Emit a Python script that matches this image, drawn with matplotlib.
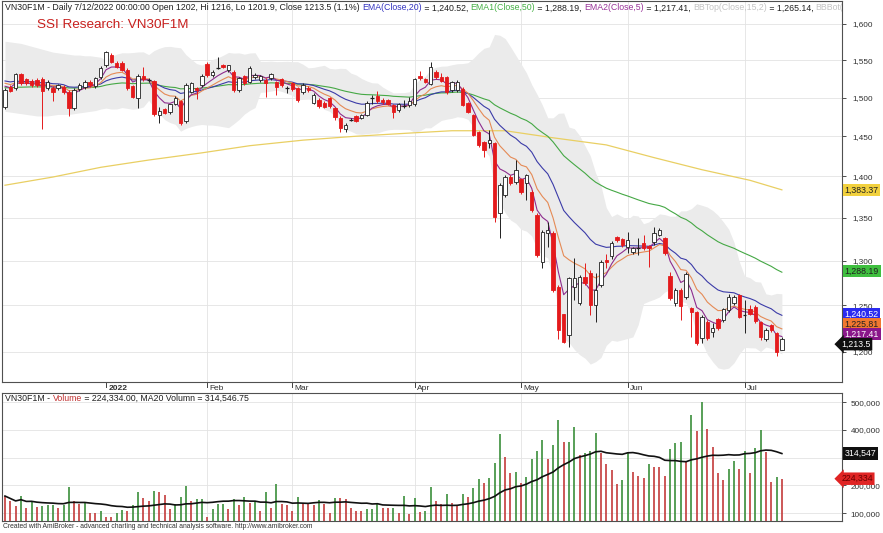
import matplotlib
matplotlib.use("Agg")
import matplotlib.pyplot as plt
from matplotlib.ticker import FixedLocator, FuncFormatter, NullLocator
import numpy as np
import pandas as pd

plt.rcParams['font.family'] = ['Liberation Sans', 'DejaVu Sans']

# ---- data (daily bars, 7 Dec 2021 .. 12 Jul 2022) ----
opens = [1488, 1514, 1512, 1531, 1524, 1522, 1523, 1524, 1513, 1512,
         1512, 1514, 1508, 1486, 1511, 1514, 1521, 1515, 1527, 1544,
         1557, 1546, 1546, 1537, 1515, 1499, 1529, 1523, 1522, 1477,
         1485, 1481, 1492, 1495, 1469, 1508, 1512, 1517, 1545, 1530,
         1539, 1543, 1537, 1534, 1510, 1528, 1521, 1527, 1523, 1523,
         1526, 1520, 1524, 1512, 1519, 1512, 1508, 1513, 1493, 1497,
         1493, 1499, 1486, 1474, 1459, 1471, 1476, 1474, 1477, 1499,
         1502, 1497, 1497, 1490, 1484, 1489, 1490, 1492, 1529, 1524,
         1518, 1534, 1527, 1527, 1510, 1510, 1511, 1493, 1477, 1456,
         1443, 1441, 1441, 1356, 1377, 1399, 1393, 1397, 1392, 1381,
         1353, 1298, 1332, 1332, 1270, 1241, 1218, 1270, 1253, 1281,
         1286, 1251, 1273, 1301, 1305, 1327, 1325, 1316, 1310, 1315,
         1320, 1317, 1321, 1330, 1326, 1283, 1253, 1267, 1259, 1247,
         1243, 1215, 1232, 1221, 1235, 1234, 1245, 1253, 1261, 1240,
         1246, 1248, 1232, 1214, 1229, 1220, 1202]
highs = [1513, 1517, 1533, 1533, 1526, 1525, 1526, 1527, 1523, 1515,
         1518, 1517, 1510, 1513, 1519, 1523, 1523, 1527, 1542, 1563,
         1560, 1549, 1549, 1539, 1517, 1531, 1541, 1526, 1523, 1487,
         1486, 1492, 1502, 1497, 1519, 1521, 1514, 1531, 1548, 1537,
         1555, 1545, 1544, 1537, 1527, 1530, 1542, 1533, 1530, 1526,
         1533, 1522, 1526, 1515, 1521, 1514, 1519, 1515, 1506, 1499,
         1495, 1501, 1488, 1476, 1467, 1473, 1477, 1479, 1495, 1503,
         1509, 1499, 1498, 1491, 1493, 1497, 1501, 1526, 1536, 1526,
         1548, 1537, 1533, 1529, 1522, 1523, 1514, 1494, 1478, 1457,
         1444, 1458, 1443, 1392, 1402, 1401, 1420, 1398, 1403, 1383,
         1356, 1336, 1345, 1334, 1273, 1241, 1282, 1303, 1284, 1297,
         1290, 1286, 1301, 1308, 1323, 1329, 1326, 1333, 1316, 1326,
         1330, 1318, 1339, 1338, 1327, 1287, 1269, 1269, 1287, 1248,
         1244, 1240, 1234, 1231, 1236, 1247, 1263, 1261, 1263, 1256,
         1250, 1250, 1233, 1225, 1230, 1221, 1216]
lows = [1485, 1507, 1510, 1517, 1517, 1514, 1514, 1459, 1510, 1495,
        1510, 1505, 1476, 1484, 1509, 1511, 1514, 1513, 1525, 1541,
        1546, 1539, 1535, 1510, 1499, 1486, 1522, 1520, 1476, 1467,
        1479, 1479, 1490, 1464, 1467, 1506, 1498, 1514, 1527, 1527,
        1538, 1539, 1534, 1507, 1507, 1517, 1519, 1525, 1521, 1501,
        1523, 1503, 1514, 1506, 1509, 1494, 1505, 1507, 1491, 1486,
        1486, 1486, 1471, 1456, 1456, 1469, 1468, 1472, 1476, 1492,
        1493, 1491, 1490, 1474, 1481, 1486, 1488, 1489, 1523, 1519,
        1516, 1525, 1520, 1505, 1507, 1507, 1489, 1480, 1450, 1436,
        1424, 1435, 1345, 1326, 1375, 1389, 1391, 1378, 1371, 1357,
        1304, 1292, 1316, 1265, 1214, 1209, 1205, 1256, 1251, 1273,
        1240, 1232, 1270, 1292, 1302, 1322, 1316, 1309, 1308, 1307,
        1312, 1293, 1318, 1328, 1307, 1256, 1249, 1234, 1257, 1216,
        1207, 1210, 1213, 1216, 1223, 1232, 1243, 1250, 1236, 1220,
        1240, 1231, 1213, 1212, 1221, 1196, 1201.9]
closes = [1510, 1509, 1531, 1519, 1519, 1517, 1517, 1509, 1521, 1507,
          1516, 1507, 1486, 1510, 1517, 1520, 1517, 1526, 1539, 1561,
          1548, 1541, 1537, 1512, 1501, 1529, 1524, 1523, 1479, 1482,
          1480, 1491, 1500, 1467, 1517, 1519, 1510, 1529, 1530, 1534,
          1539, 1541, 1543, 1510, 1526, 1519, 1539, 1530, 1529, 1519,
          1532, 1514, 1517, 1512, 1511, 1497, 1517, 1510, 1503, 1489,
          1488, 1489, 1475, 1460, 1464, 1471, 1470, 1477, 1493, 1499,
          1495, 1494, 1492, 1481, 1491, 1489, 1495, 1524, 1526, 1521,
          1541, 1527, 1522, 1508, 1520, 1520, 1490, 1481, 1452, 1439,
          1433, 1445, 1351, 1389, 1399, 1392, 1408, 1381, 1402, 1359,
          1307, 1333, 1336, 1267, 1223, 1211, 1280, 1280, 1281, 1275,
          1251, 1267, 1298, 1299, 1320, 1324, 1318, 1324, 1315, 1315,
          1315, 1315, 1332, 1336, 1309, 1258, 1267, 1249, 1285, 1243,
          1210, 1237, 1215, 1226, 1225, 1246, 1259, 1259, 1237, 1240,
          1241, 1233, 1216, 1223, 1223, 1200, 1213.5]
# volume in thousands of contracts
volume_k = [162, 144, 127, 162, 118, 144, 122, 126, 128, 130,
            118, 130, 194, 144, 132, 139, 102, 100, 109, 88,
            86, 100, 112, 108, 130, 178, 156, 144, 180, 175,
            166, 114, 132, 157, 199, 145, 150, 152, 88, 115,
            132, 133, 115, 152, 130, 157, 136, 142, 109, 175,
            118, 205, 132, 130, 109, 159, 136, 136, 130, 148,
            132, 102, 155, 155, 152, 118, 109, 109, 115, 116,
            136, 118, 118, 120, 100, 161, 97, 155, 105, 107,
            194, 144, 133, 170, 136, 127, 169, 160, 192, 223,
            210, 228, 280, 385, 302, 246, 248, 208, 232, 296,
            324, 362, 294, 346, 436, 356, 358, 410, 310, 318,
            324, 390, 318, 278, 256, 205, 220, 318, 250, 234,
            226, 278, 268, 266, 234, 332, 354, 356, 286, 454,
            396, 502, 403, 338, 246, 220, 258, 288, 260, 324,
            246, 334, 398, 320, 214, 232, 224.334]

month_labels = ['2022', 'Feb', 'Mar', 'Apr', 'May', 'Jun', 'Jul']
month_bars = [19, 38, 54, 77, 97, 117, 139]

# long moving average (yellow), read at a few bars
slow_ma_bars = [0, 9, 18, 27, 37, 46, 56, 66, 76, 84, 94, 103, 113, 122, 131, 140, 146]
slow_ma_vals = [1389, 1399, 1411, 1420, 1429, 1438, 1445, 1450, 1454, 1457,
                1457, 1448, 1439, 1423, 1408, 1395, 1383.37]

# Bollinger band on the first bars (the window reaches back before Dec)
bb_top_head = [1576, 1575, 1574, 1573, 1571, 1569, 1567, 1565, 1563, 1561,
               1560, 1559, 1558, 1557, 1557, 1556, 1556, 1555, 1554]
bb_bot_head = [1482, 1481, 1480, 1479, 1478, 1477, 1476, 1476, 1476, 1477,
               1478, 1478, 1478, 1479, 1480, 1481, 1482, 1483, 1485]

# EMA values on the first bar
ema_start = {5: 1515, 10: 1519, 20: 1522, 50: 1513}

# last values printed in the right-hand tags
price_tags = [1383.37, 1288.19, 1240.52, 1225.81, 1217.41, 1213.5]
price_tag_colors = [('#f2d13e', '#202020'), ('#3fbf3f', '#202020'), ('#2b2bf0', 'white'),
                    ('#f07830', '#202020'), ('#8a178a', 'white'), ('#101010', 'white')]

# ---- indicators ----
o = np.array(opens, float); h = np.array(highs, float)
l = np.array(lows, float); c = np.array(closes, float)
vol = np.array(volume_k) * 1000
x = np.arange(len(c))


def ema(vals, n, start):
    k = 2.0 / (n + 1)
    out = [start]
    for v in vals[1:]:
        out.append(out[-1] + k * (v - out[-1]))
    return np.array(out)


cs = pd.Series(c)
mid = cs.rolling(15).mean()
sd = cs.rolling(15).std(ddof=0)
bb_top = (mid + 2 * sd).to_numpy()
bb_bot = (mid - 2 * sd).to_numpy()
nh = len(bb_top_head)
bb_top[:nh] = bb_top_head
bb_bot[:nh] = bb_bot_head

ema5 = ema(c, 5, ema_start[5])
ema10 = ema(c, 10, ema_start[10])
ema20 = ema(c, 20, ema_start[20])
ema50 = ema(c, 50, ema_start[50])
vol_ma = pd.Series(vol).rolling(20, min_periods=1).mean().to_numpy()

# ---- figure ----
W, H = 883, 533
fig = plt.figure(figsize=(W / 100, H / 100), dpi=100)


def rect(left, top, right, bottom):
    return [left / W, 1 - bottom / H, (right - left) / W, (bottom - top) / H]


ax = fig.add_axes(rect(2, 1, 842, 382))
axv = fig.add_axes(rect(2, 393, 842, 521))
XL = (-0.56, 157.3)
RED = '#e41a1c'
GRID = '#e3e3e3'
EDGE = '#505050'
TXT = 6.3

# price panel
ax.set_xlim(XL)
ax.set_yscale('log')
ax.set_ylim(1168.8, 1632.6)
pticks = list(range(1200, 1601, 50))
ax.yaxis.set_major_locator(FixedLocator(pticks))
ax.yaxis.set_minor_locator(NullLocator())
ax.yaxis.set_major_formatter(FuncFormatter(lambda v, p: f'{v:,.0f}'))
ax.yaxis.tick_right()
ax.tick_params(axis='y', direction='out', length=3, pad=12, labelsize=5.9,
               colors='#303030', width=0.6)
for t in ax.get_yticklabels():
    t.set_ha('center')
ax.set_xticks([])
for yv in pticks:
    ax.axhline(yv, color=GRID, lw=0.6, zorder=0)
for b in month_bars[1:]:
    ax.axvline(b, color=GRID, lw=0.6, zorder=0)
for s in ax.spines.values():
    s.set_color(EDGE)
    s.set_linewidth(0.8)

ax.fill_between(x, bb_bot, bb_top, color='#ebebeb', lw=0, zorder=1)
ax.plot(slow_ma_bars, slow_ma_vals, color='#e9cf63', lw=0.9, zorder=2)
ax.plot(x, ema50, color='#45a845', lw=0.8, zorder=2)
ax.plot(x, ema20, color='#3b3ba8', lw=0.8, zorder=2)
ax.plot(x, ema10, color='#e58a55', lw=0.8, zorder=2)
ax.plot(x, ema5, color='#8e2c8e', lw=0.8, zorder=2)

up = c > o
dn = c < o
eq = c == o
ax.vlines(x[~dn], l[~dn], h[~dn], color='#202020', lw=0.7, zorder=3)
ax.vlines(x[dn], l[dn], h[dn], color=RED, lw=0.7, zorder=3)
ax.bar(x[up], (c - o)[up], bottom=o[up], width=0.64, facecolor='white',
       edgecolor='#202020', lw=0.6, zorder=4)
ax.bar(x[dn], (o - c)[dn], bottom=c[dn], width=0.64, facecolor=RED,
       edgecolor=RED, lw=0.6, zorder=4)
ax.hlines(c[eq], x[eq] - 0.35, x[eq] + 0.35, color='#202020', lw=0.9, zorder=4)


def rich(axis, x0, y0, pieces, size):
    r = fig.canvas.get_renderer()
    xx = x0
    for s, col in pieces:
        t = axis.text(xx, y0, s, color=col, fontsize=size, transform=axis.transAxes,
                      ha='left', va='center', clip_on=True, zorder=20)
        bb = t.get_window_extent(renderer=r)
        xx += bb.width / axis.bbox.width


rich(ax, 0.004, 0.982, [
    ('VN30F1M - Daily 7/12/2022 00:00:00 Open 1202, Hi 1216, Lo 1201.9, Close 1213.5 (1.1%) ', '#202020'),
    ('EMA(Close,20)', '#3434c0'), (' = 1,240.52, ', '#202020'),
    ('EMA1(Close,50)', '#45b045'), (' = 1,288.19, ', '#202020'),
    ('EMA2(Close,5)', '#993399'), (' = 1,217.41, ', '#202020'),
    ('BBTop(Close,15,2)', '#c4c4c4'), (' = 1,265.14, ', '#202020'),
    ('BBBot(', '#c4c4c4')], TXT)
ax.text(0.042, 0.936, 'SSI Research: VN30F1M', color='#c8201e', fontsize=9.7,
        transform=ax.transAxes, ha='left', va='center')


def tag(axis, yv, s, fc, tc, style='square', x0=1.003):
    axis.text(x0, yv, s, transform=axis.get_yaxis_transform(), ha='left', va='center',
              fontsize=6.3, color=tc, clip_on=False, zorder=30,
              bbox=dict(boxstyle=style + ',pad=0.2', fc=fc, ec='none'))


def spread(axis, vals, gap=10.0):
    # push tags apart (in pixels) so they do not sit on top of each other
    tr = axis.transData
    py = np.array([tr.transform((0, v))[1] for v in vals])
    for _ in range(200):
        order = np.argsort(-py)
        moved = False
        for a, b in zip(order[:-1], order[1:]):
            d = py[a] - py[b]
            if d < gap:
                py[a] += (gap - d) / 2
                py[b] -= (gap - d) / 2
                moved = True
        if not moved:
            break
    inv = tr.inverted()
    return [inv.transform((0, p))[1] for p in py]


tag_pos = spread(ax, price_tags)
for v, yp, (fc, tc) in zip(price_tags, tag_pos, price_tag_colors):
    if v == price_tags[-1]:
        tag(ax, yp, f'{v:,.1f}', fc, tc, 'larrow', 0.999)
    else:
        tag(ax, yp, f'{v:,.2f}', fc, tc)

# date strip
for b, lab in zip(month_bars, month_labels):
    ax.plot([b, b], [-0.003, -0.014], transform=ax.get_xaxis_transform(),
            color='#404040', lw=0.7, clip_on=False)
    ax.text(b + 0.4, -0.0165, lab, transform=ax.get_xaxis_transform(), ha='left',
            va='center', fontsize=6, color='#303030',
            fontweight='bold' if lab == '2022' else 'normal')

# volume panel
axv.set_xlim(XL)
axv.set_ylim(72000, 533000)
vticks = [100000, 200000, 300000, 400000, 500000]
axv.yaxis.set_major_locator(FixedLocator(vticks))
# 300,000 sits under the MA20 tag in the original
axv.yaxis.set_major_formatter(FuncFormatter(lambda v, p: '' if v == 300000 else f'{v:,.0f}'))
axv.yaxis.tick_right()
axv.tick_params(axis='y', direction='out', length=3, pad=14, labelsize=5.9,
                colors='#303030', width=0.6)
for t in axv.get_yticklabels():
    t.set_ha('center')
axv.set_xticks([])
for yv in vticks:
    axv.axhline(yv, color=GRID, lw=0.6, zorder=0)
for b in month_bars[1:]:
    axv.axvline(b, color=GRID, lw=0.6, zorder=0)
for s in axv.spines.values():
    s.set_color(EDGE)
    s.set_linewidth(0.8)

rising = np.r_[False, vol[1:] > vol[:-1]]
vcol = np.where(rising, '#3b8f3b', '#c33b3b')
axv.vlines(x, 72000, vol, colors=vcol, lw=1.2, zorder=2)
axv.plot(x, vol_ma, color='#111111', lw=1.2, zorder=3)

rich(axv, 0.004, 0.955, [('VN30F1M - ', '#202020'), ('Volume', '#c03030'),
                         (' = 224,334.00, MA20 Volumn = 314,546.75', '#202020')], TXT)
tag(axv, vol_ma[-1], '314,547', '#101010', 'white')
tag(axv, vol[-1], '224,334', '#e02424', '#6a0000', 'larrow', 0.999)

fig.text(3 / W, 1 - 527 / H, 'Created with AmiBroker - advanced charting and technical analysis '
         'software. http://www.amibroker.com', fontsize=4.9, color='#303030',
         ha='left', va='center')

fig.savefig('out.png', dpi=100, facecolor='white')
